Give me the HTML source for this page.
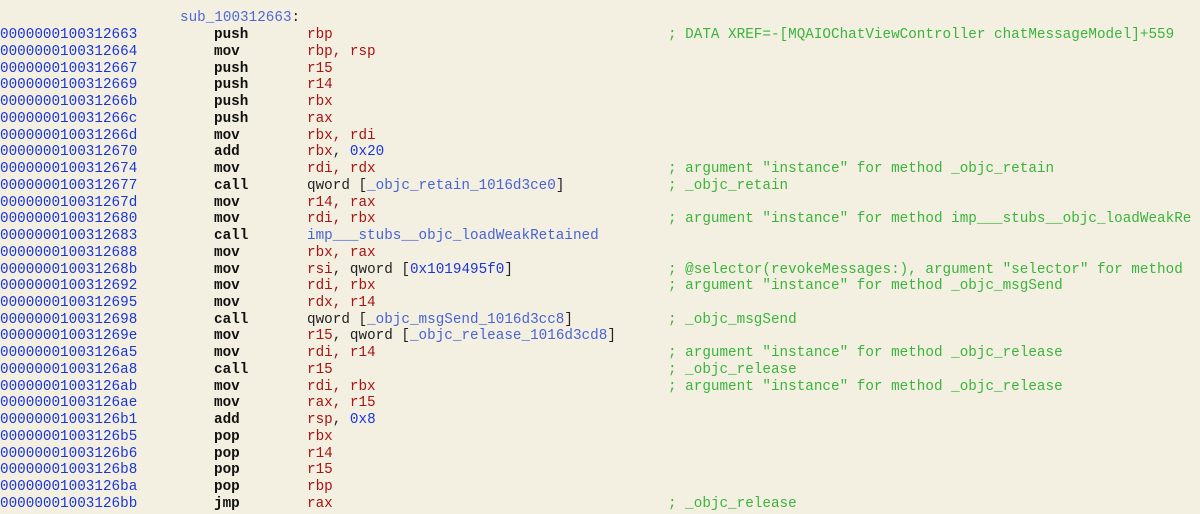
<!DOCTYPE html>
<html><head><meta charset="utf-8"><style>
html,body{margin:0;padding:0;background:#f3f0e2;width:1200px;height:512px;overflow:hidden}
body{font-family:"Liberation Mono","DejaVu Sans Mono",monospace;font-size:14.3px;}
#w{position:absolute;left:0;top:2px;width:1200px;height:512px}
.r{position:absolute;left:0;height:17px;line-height:17px;white-space:pre;width:1200px}
.r span{position:absolute}
.a{left:0;color:#1b35d6}
.m{left:214px;color:#111;font-weight:bold}
.o{left:307px;color:#222}
.c{left:668px;color:#3cb43c}
.g{color:#a81313}
.s{color:#4a63d4}
.n{color:#1b35d6}
i{font-style:normal}
</style></head><body><div id="w">
<div class="r" style="top:8px"><span style="left:180px;color:#5068d2">sub_100312663<b style="font-weight:normal;color:#222">:</b></span></div>
<div class="r" style="top:25px"><span class="a">0000000100312663</span><span class="m">push</span><span class="o g">rbp</span><span class="c">; DATA XREF=-[MQAIOChatViewController chatMessageModel]+559</span></div>
<div class="r" style="top:42px"><span class="a">0000000100312664</span><span class="m">mov</span><span class="o g">rbp, rsp</span></div>
<div class="r" style="top:59px"><span class="a">0000000100312667</span><span class="m">push</span><span class="o g">r15</span></div>
<div class="r" style="top:75px"><span class="a">0000000100312669</span><span class="m">push</span><span class="o g">r14</span></div>
<div class="r" style="top:92px"><span class="a">000000010031266b</span><span class="m">push</span><span class="o g">rbx</span></div>
<div class="r" style="top:109px"><span class="a">000000010031266c</span><span class="m">push</span><span class="o g">rax</span></div>
<div class="r" style="top:126px"><span class="a">000000010031266d</span><span class="m">mov</span><span class="o g">rbx, rdi</span></div>
<div class="r" style="top:142px"><span class="a">0000000100312670</span><span class="m">add</span><span class="o"><i class="g">rbx</i>, <i class="n">0x20</i></span></div>
<div class="r" style="top:159px"><span class="a">0000000100312674</span><span class="m">mov</span><span class="o g">rdi, rdx</span><span class="c">; argument "instance" for method _objc_retain</span></div>
<div class="r" style="top:176px"><span class="a">0000000100312677</span><span class="m">call</span><span class="o">qword [<i class="s">_objc_retain_1016d3ce0</i>]</span><span class="c">; _objc_retain</span></div>
<div class="r" style="top:193px"><span class="a">000000010031267d</span><span class="m">mov</span><span class="o g">r14, rax</span></div>
<div class="r" style="top:209px"><span class="a">0000000100312680</span><span class="m">mov</span><span class="o g">rdi, rbx</span><span class="c">; argument "instance" for method imp___stubs__objc_loadWeakRe</span></div>
<div class="r" style="top:226px"><span class="a">0000000100312683</span><span class="m">call</span><span class="o s">imp___stubs__objc_loadWeakRetained</span></div>
<div class="r" style="top:243px"><span class="a">0000000100312688</span><span class="m">mov</span><span class="o g">rbx, rax</span></div>
<div class="r" style="top:260px"><span class="a">000000010031268b</span><span class="m">mov</span><span class="o"><i class="g">rsi</i>, qword [<i class="n">0x1019495f0</i>]</span><span class="c">; @selector(revokeMessages:), argument "selector" for method</span></div>
<div class="r" style="top:276px"><span class="a">0000000100312692</span><span class="m">mov</span><span class="o g">rdi, rbx</span><span class="c">; argument "instance" for method _objc_msgSend</span></div>
<div class="r" style="top:293px"><span class="a">0000000100312695</span><span class="m">mov</span><span class="o g">rdx, r14</span></div>
<div class="r" style="top:310px"><span class="a">0000000100312698</span><span class="m">call</span><span class="o">qword [<i class="s">_objc_msgSend_1016d3cc8</i>]</span><span class="c">; _objc_msgSend</span></div>
<div class="r" style="top:326px"><span class="a">000000010031269e</span><span class="m">mov</span><span class="o"><i class="g">r15</i>, qword [<i class="s">_objc_release_1016d3cd8</i>]</span></div>
<div class="r" style="top:343px"><span class="a">00000001003126a5</span><span class="m">mov</span><span class="o g">rdi, r14</span><span class="c">; argument "instance" for method _objc_release</span></div>
<div class="r" style="top:360px"><span class="a">00000001003126a8</span><span class="m">call</span><span class="o g">r15</span><span class="c">; _objc_release</span></div>
<div class="r" style="top:377px"><span class="a">00000001003126ab</span><span class="m">mov</span><span class="o g">rdi, rbx</span><span class="c">; argument "instance" for method _objc_release</span></div>
<div class="r" style="top:393px"><span class="a">00000001003126ae</span><span class="m">mov</span><span class="o g">rax, r15</span></div>
<div class="r" style="top:410px"><span class="a">00000001003126b1</span><span class="m">add</span><span class="o"><i class="g">rsp</i>, <i class="n">0x8</i></span></div>
<div class="r" style="top:427px"><span class="a">00000001003126b5</span><span class="m">pop</span><span class="o g">rbx</span></div>
<div class="r" style="top:444px"><span class="a">00000001003126b6</span><span class="m">pop</span><span class="o g">r14</span></div>
<div class="r" style="top:460px"><span class="a">00000001003126b8</span><span class="m">pop</span><span class="o g">r15</span></div>
<div class="r" style="top:477px"><span class="a">00000001003126ba</span><span class="m">pop</span><span class="o g">rbp</span></div>
<div class="r" style="top:494px"><span class="a">00000001003126bb</span><span class="m">jmp</span><span class="o g">rax</span><span class="c">; _objc_release</span></div>
</div></body></html>
